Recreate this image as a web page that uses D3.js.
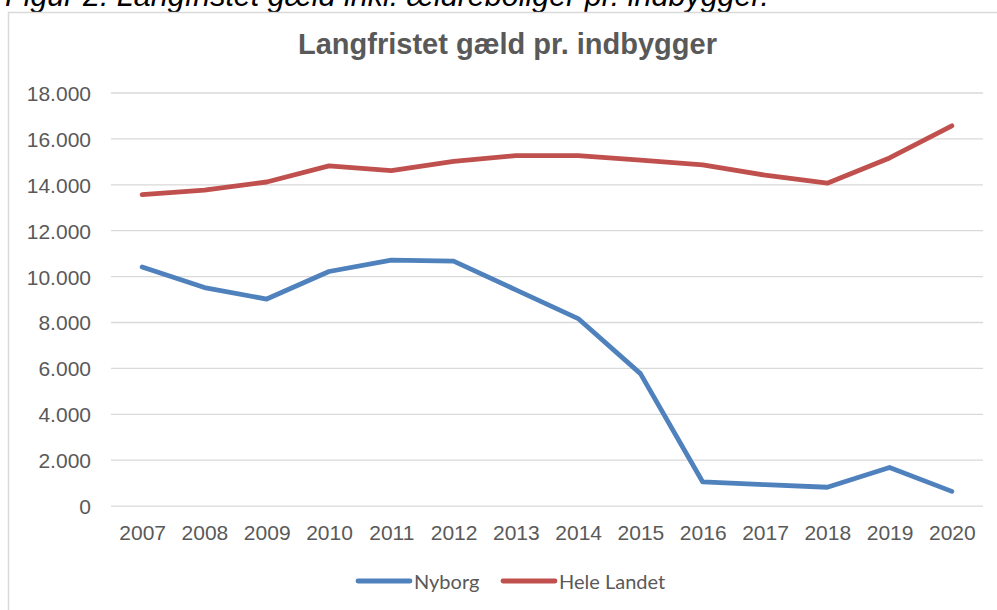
<!DOCTYPE html>
<meta charset="utf-8">
<script src="https://d3js.org/d3.v7.min.js"></script>
<style>
  body { margin: 0; background: #fff; }
  svg { display: block; }
</style>
<svg id="vis"></svg>
<script>
  // data
  var years = ['2007','2008','2009','2010','2011','2012','2013','2014','2015','2016','2017','2018','2019','2020']
  var nyborg = [10400, 9500, 9000, 10200, 10700, 10650, 9400, 8150, 5750, 1030, 910, 800, 1660, 620]
  var heleLandet = [13550, 13750, 14100, 14800, 14600, 15000, 15250, 15250, 15050, 14850, 14400, 14050, 15150, 16550]
  var yTicks = [0, 2000, 4000, 6000, 8000, 10000, 12000, 14000, 16000, 18000]
  var seriesNames = ['Nyborg', 'Hele Landet']
  var seriesColors = ['#4f81bd', '#c0504d']

  var width = 997, height = 610
  var plot = {left: 111, right: 983, top: 92.5, bottom: 505.6}

  var svg = d3.select('#vis')
    .attr('width', width)
    .attr('height', height)

  var da = d3.formatLocale({decimal: ',', thousands: '.', grouping: [3], currency: ['', ' kr']})
  var fmt = da.format(',d')

  // caption above the chart box (cut off at the top in the original too)
  svg.append('text')
    .attr('x', 5)
    .attr('y', 6)
    .attr('font-family', 'Liberation Sans, Arial, sans-serif')
    .attr('font-style', 'italic')
    .attr('font-size', 30.5)
    .attr('fill', '#000')
    .text('Figur 2. Langfristet gæld inkl. ældreboliger pr. indbygger.')

  // chart box
  svg.append('rect')
    .attr('x', 8.5)
    .attr('y', 12.5)
    .attr('width', 1100)
    .attr('height', 700)
    .attr('fill', '#fff')
    .attr('stroke', '#d9d9d9')
    .attr('stroke-width', 1.5)

  svg.append('text')
    .attr('x', 507.5)
    .attr('y', 54)
    .attr('text-anchor', 'middle')
    .attr('font-family', 'Liberation Sans, Arial, sans-serif')
    .attr('font-weight', 'bold')
    .attr('font-size', 29)
    .attr('fill', '#595959')
    .text('Langfristet gæld pr. indbygger')

  // scales
  var x = d3.scalePoint()
    .domain(years)
    .range([plot.left, plot.right])
    .padding(0.5)

  var y = d3.scaleLinear()
    .domain([0, 18000])
    .range([plot.bottom, plot.top])

  // y axis + gridlines
  var yAxis = d3.axisLeft(y)
    .tickValues(yTicks)
    .tickFormat(fmt)
    .tickSize(-(plot.right - plot.left))
    .tickPadding(20)

  var gy = svg.append('g')
    .attr('transform', 'translate(' + plot.left + ',0)')
    .call(yAxis)
  gy.select('.domain').remove()
  gy.selectAll('line')
    .attr('stroke', '#d9d9d9')
    .attr('stroke-width', 1.3)
  gy.selectAll('text')
    .attr('font-family', 'Liberation Sans, Arial, sans-serif')
    .attr('font-size', 21)
    .attr('fill', '#595959')
    .attr('dy', '0.38em')

  // x axis
  var xAxis = d3.axisBottom(x)
    .tickSize(0)
    .tickPadding(19)

  var gx = svg.append('g')
    .attr('transform', 'translate(0,' + plot.bottom + ')')
    .call(xAxis)
  gx.select('.domain').remove()
  gx.selectAll('text')
    .attr('font-family', 'Liberation Sans, Arial, sans-serif')
    .attr('font-size', 21)
    .attr('fill', '#595959')

  // lines
  var line = d3.line()
    .x(function (d, i) { return x(years[i]) })
    .y(function (d) { return y(d) })

  var allSeries = [nyborg, heleLandet]
  svg.selectAll('path.series')
    .data(allSeries)
    .enter().append('path')
      .attr('class', 'series')
      .attr('d', line)
      .attr('fill', 'none')
      .attr('stroke', function (d, i) { return seriesColors[i] })
      .attr('stroke-width', 4.8)
      .attr('stroke-linejoin', 'round')
      .attr('stroke-linecap', 'round')

  // legend
  var legendX = [358, 503]
  var legend = svg.selectAll('g.legend')
    .data(seriesNames)
    .enter().append('g')
      .attr('class', 'legend')
      .attr('transform', function (d, i) { return 'translate(' + legendX[i] + ',581)' })

  legend.append('line')
    .attr('x1', 0)
    .attr('x2', 52)
    .attr('stroke', function (d, i) { return seriesColors[i] })
    .attr('stroke-width', 4.8)
    .attr('stroke-linecap', 'round')

  legend.append('text')
    .attr('x', 56)
    .attr('y', 8)
    .attr('font-family', 'Lato, sans-serif')
    .attr('font-size', 20)
    .attr('fill', '#595959')
    .text(function (d) { return d })
</script>
